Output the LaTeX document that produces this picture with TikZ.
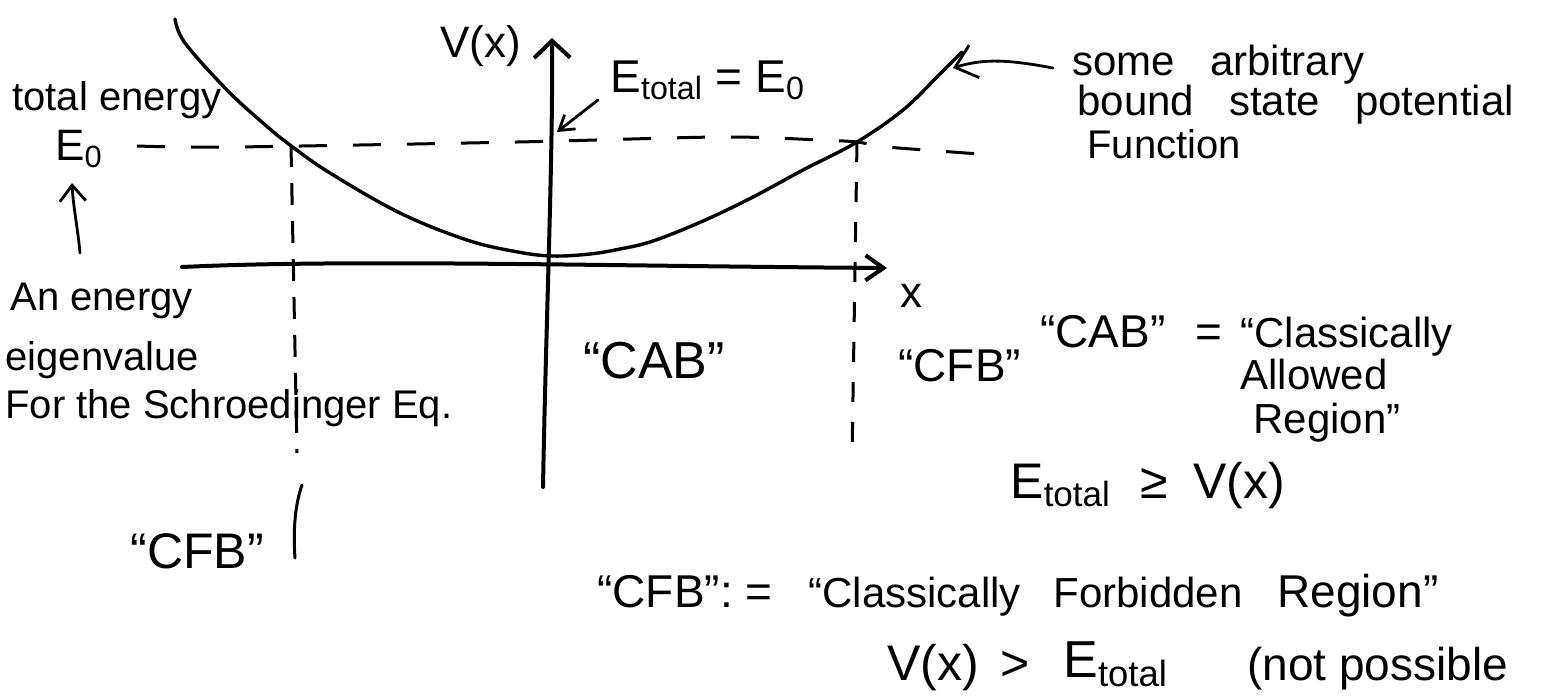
\documentclass[tikz,border=0pt]{standalone}
\usepackage{fontspec}
\setmainfont{Liberation Sans}
\newfontfamily\widefont[WordSpace=3]{Liberation Sans}
\usetikzlibrary{arrows.meta}
\begin{document}
\begin{tikzpicture}[x=0.5pt,y=-0.5pt,
  lbl/.style={anchor=base west, inner sep=0pt},
  fsA/.style={font=\fontsize{20}{24}\selectfont},
  fsB/.style={font=\fontsize{21}{25}\selectfont},
  fsC/.style={font=\fontsize{23}{27}\selectfont},
  fsD/.style={font=\fontsize{25}{29}\selectfont},
  fsE/.style={font=\fontsize{26}{30}\selectfont},
  fsW/.style={font=\widefont\fontsize{21}{25}\selectfont},
  curvestroke/.style={line width=1.7pt, line cap=round, line join=round},
  axisstroke/.style={line width=2pt, line cap=round},
  dashline/.style={line width=1.5pt, dash pattern=on 14pt off 13pt},
  vdash/.style={line width=1.5pt, dash pattern=on 11pt off 8pt},
  pointer/.style={line width=1.4pt, line cap=round}
]
\useasboundingbox (0,0) rectangle (1559,698);
\fill[white] (0,0) rectangle (1559,698);

% axes
\coordinate (vbot) at (543,487);
\coordinate (vtop) at (552,38);
\coordinate (xstart) at (182,267);
\coordinate (xend) at (887,268);
\draw[axisstroke, -{Straight Barb[length=8.5pt,width=18pt]}] (vbot) .. controls (546,320) and (553,160) .. (vtop);
\draw[axisstroke, -{Straight Barb[length=9pt,width=12.5pt]}] (xstart) .. controls (350,259) and (600,266) .. (xend);

% potential curve
\draw[curvestroke] plot[smooth, tension=0.6] coordinates {(175,19) (185,43) (227,90) (263,123) (290,145) (330,173) (400,213) (467,240) (518,252) (553,256) (590,254) (620,249) (653,241) (703,221) (753,197) (803,170) (857,142) (903,110) (937,77) (962,52)};

% energy level E0
\draw[dashline] plot[smooth] coordinates {(137,146) (233,147) (517,142) (720,137) (820,140) (857,142) (887,147) (980,154)};

% turning point verticals
\coordinate (lt) at (291,145);
\coordinate (lb) at (297,453);
\draw[vdash] (lt) -- (lb);
\draw[pointer, line width=1.5pt] (302,485) .. controls (295,505) and (293,530) .. (295,558);
\coordinate (rt) at (857,142);
\coordinate (rb) at (852,460);
\draw[line width=1.5pt, dash pattern=on 10pt off 10pt] (rt) -- (rb);

% labels
\node[lbl,fsA] (tot) at (12,110) {total energy};
\node[lbl,font=\fontsize{22}{26}\selectfont] (e0) at (55,160) {E\textsubscript{0}};
\node[lbl,fsA] (an) at (10,310) {An energy};
\node[lbl,fsA] (eig) at (5,370) {eigenvalue};
\node[lbl,fsA] (for) at (5,418) {For the Schroedinger Eq.};
\node[lbl,font=\fontsize{22}{26}\selectfont] (vx) at (440,57) {V(x)};
\node[lbl,fsC] (etot) at (610,92) {E\textsubscript{total} = E\textsubscript{0}};
\node[lbl,fsW] (some) at (1072,75) {some arbitrary};
\node[lbl,fsW] (bound) at (1077,115) {bound state potential};
\node[lbl,font=\fontsize{20}{24}\selectfont] (func) at (1087,158) {Function};
\node[lbl,font=\fontsize{22}{26}\selectfont] (xl) at (900,307) {x};
\node[lbl,fsE] (cab1) at (583,378) {“CAB”};
\node[lbl,fsC] (cfb1) at (898,381) {“CFB”};
\node[lbl,fsC] (cab2) at (1040,347) {“CAB”};
\node[lbl,fsC] (eq2) at (1195,347) {=};
\node[lbl,fsB] (cl1) at (1240,347) {“Classically};
\node[lbl,fsB] (allow) at (1240,389) {Allowed};
\node[lbl,fsB] (reg1) at (1253,433) {Region”};
\node[lbl,fsD] (etot2) at (1010,498) {E\textsubscript{total}};
\node[lbl,fsD] (geq) at (1140,498) {≥};
\node[lbl,fsD] (vx2) at (1193,498) {V(x)};
\node[lbl,fsD] (cfb2) at (130,568) {“CFB”};
\node[lbl,fsC] (cfb3) at (597,607) {“CFB”: =};
\node[lbl,fsB] (cl2) at (808,607) {“Classically};
\node[lbl,fsB] (forb) at (1053,607) {Forbidden};
\node[lbl,fsC] (reg2) at (1277,607) {Region”};
\node[lbl,fsD] (vx3) at (887,680) {V(x)};
\node[lbl,fsD] (gt) at (1000,680) {>};
\node[lbl,font=\fontsize{26}{30}\selectfont] (etot3) at (1063,677) {E\textsubscript{total}};
\node[lbl,fsC] (notp) at (1247,680) {(not possible};

% pointers
\coordinate (ea) at (598,100);
\coordinate (eb) at (557,132);
\draw[pointer, -{Straight Barb[length=7pt,width=9pt]}] (ea) -- (eb);
\coordinate (sa) at (1053,68);
\coordinate (sb) at (953,68);
\draw[pointer, -{Straight Barb[length=10pt,width=17pt]}] (sa) .. controls (1010,60) and (985,58) .. (sb);
\coordinate (ua) at (80,253);
\coordinate (ub) at (72,183);
\draw[pointer, -{Straight Barb[length=8pt,width=13pt]}] (ua) .. controls (78,230) and (73,205) .. (ub);
\end{tikzpicture}
\end{document}
